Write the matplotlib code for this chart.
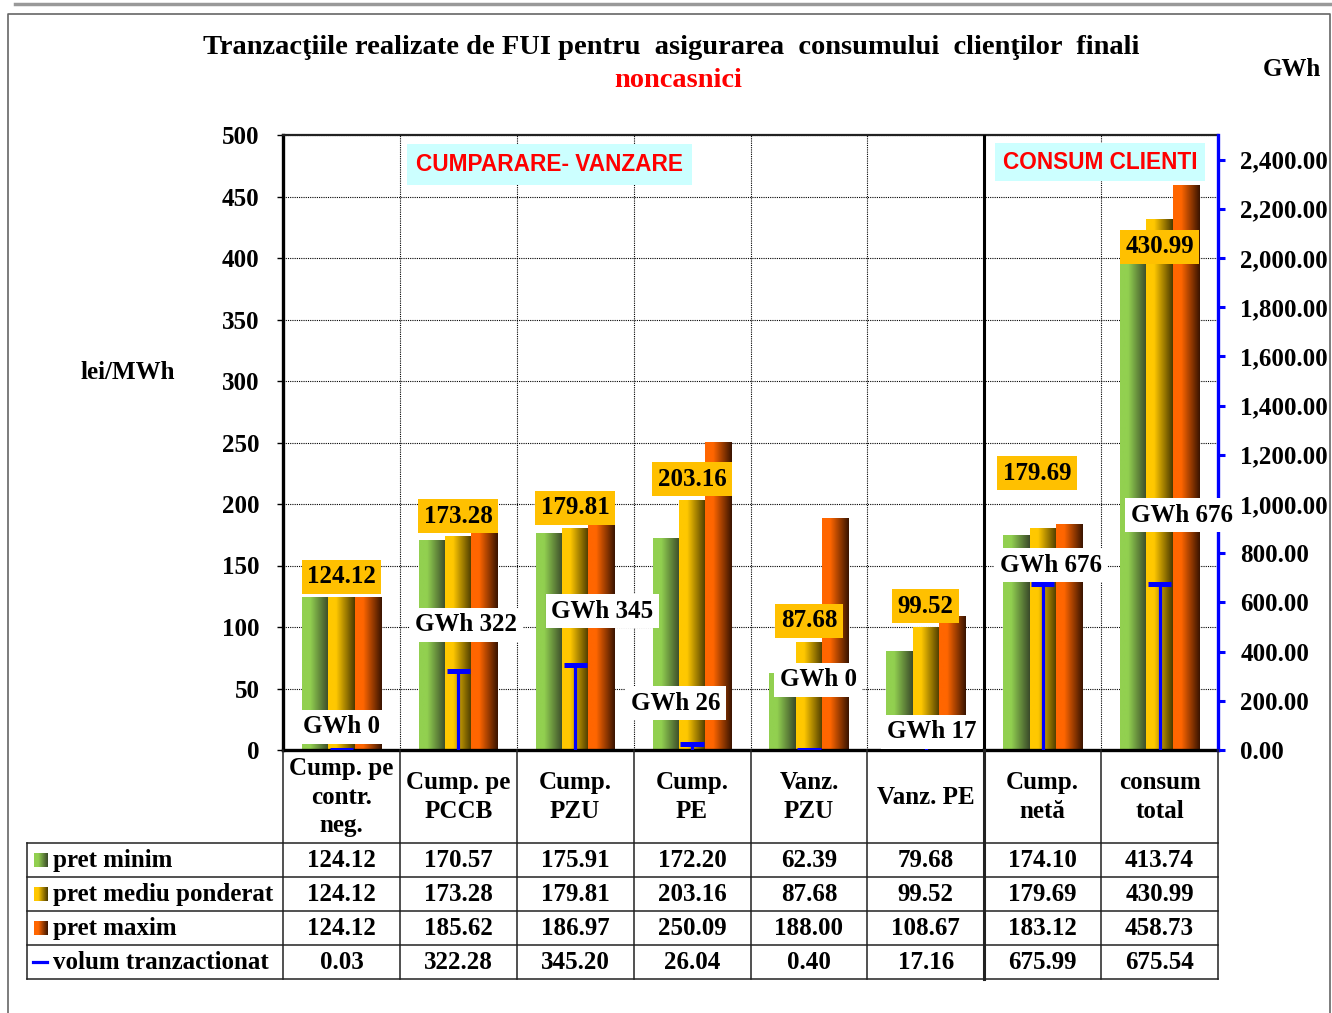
import numpy as np
import matplotlib
matplotlib.use("Agg")
import matplotlib.pyplot as plt
from matplotlib.colors import LinearSegmentedColormap

plt.rcParams['font.family'] = ['Liberation Serif', 'DejaVu Serif']
plt.rcParams['font.weight'] = 'bold'

# data
categories = ["Cump. pe\ncontr.\nneg.", "Cump. pe\nPCCB", "Cump.\nPZU", "Cump.\nPE",
              "Vanz.\nPZU", "Vanz. PE", "Cump.\nnetă", "consum\ntotal"]
pret_minim = [124.12, 170.57, 175.91, 172.20, 62.39, 79.68, 174.10, 413.74]
pret_mediu = [124.12, 173.28, 179.81, 203.16, 87.68, 99.52, 179.69, 430.99]
pret_maxim = [124.12, 185.62, 186.97, 250.09, 188.00, 108.67, 183.12, 458.73]
volum = [0.03, 322.28, 345.20, 26.04, 0.40, 17.16, 675.99, 675.54]
series_names = ["pret minim", "pret mediu ponderat", "pret maxim", "volum tranzactionat"]

# label placement (moved by hand in the original)
mediu_lbl_y = [141, 190, 197, 220, 105, 117, 225, 409]
mediu_lbl_dx = [0, 0, 0, 0, 0, 0, -0.05, 0]
gwh_lbl_y = [19, 102, 113, 38, 57, 15, 150, 191]
gwh_lbl_dx = [0, 0.07, 0.23, -0.14, 0.08, 0.05, 0.07, 0.19]

colors = [("#92D050", "#3A4A2A"), ("#FFC800", "#4A3A00"), ("#FF6600", "#3A1400")]

W, H = 1332, 1013
fig = plt.figure(figsize=(W / 100, H / 100), dpi=100)
L, R, T, B = 283, 1218, 135, 750
ax = fig.add_axes([L / W, 1 - B / H, (R - L) / W, (B - T) / H])

n = len(categories)
x = np.arange(n)
bw = 0.225


def grad_cmap(c1, c2):
    return LinearSegmentedColormap.from_list("g", [(0, c1), (0.3, c1), (1, c2)])


grad = np.linspace(0, 1, 64).reshape(1, -1)
for k, vals in enumerate([pret_minim, pret_mediu, pret_maxim]):
    bars = ax.bar(x + (k - 1) * bw, vals, bw, color=colors[k][0], zorder=2)
    cm = grad_cmap(*colors[k])
    for b in bars:
        x0, y0 = b.get_xy()
        ax.imshow(grad, extent=[x0, x0 + b.get_width(), y0, y0 + b.get_height()],
                  aspect='auto', cmap=cm, zorder=2.1)

ax.set_xlim(-0.5, n - 0.5)
ax.set_ylim(0, 500)
ax.set_yticks(np.arange(0, 501, 50))
ax.set_xticks([])
ax.yaxis.grid(True, linestyle=(0, (1, 1)), color='black', linewidth=0.8)
for k in range(1, n):
    ax.axvline(k - 0.5, linestyle=(0, (1, 1)), color='black', linewidth=0.8, zorder=1)
ax.axvline(5.5, color='black', linewidth=2.2, zorder=3)
ax.set_axisbelow(True)
ax.tick_params(axis='y', direction='out', length=4, width=1, pad=13, labelsize=18)
for t in ax.get_yticklabels():
    t.set_fontweight('bold')
ax.spines['left'].set_linewidth(2.4)
ax.spines['bottom'].set_linewidth(2.4)
ax.spines['top'].set_linewidth(1.6)
ax.spines['top'].set_color('#222222')
ax.spines['right'].set_visible(False)

# volume on secondary axis
ax2 = ax.twinx()
ax2.set_ylim(0, 2500)
ax2.set_yticks(np.arange(0, 2401, 200))
ax2.set_yticklabels(["{:,.2f}".format(v) for v in np.arange(0, 2401, 200)])
ax2.vlines(x, 0, volum, color='#0000FF', linewidth=2.3, zorder=4)
ax2.hlines(volum, x - 0.1, x + 0.1, color='#0000FF', linewidth=3.6, zorder=4)
for s in ['left', 'top', 'bottom']:
    ax2.spines[s].set_visible(False)
ax2.spines['right'].set_color('#0000FF')
ax2.spines['right'].set_linewidth(2.4)
ax2.tick_params(axis='y', direction='out', length=5, width=2.2, color='#0000FF',
                pad=11, labelsize=18)
for t in ax2.get_yticklabels():
    t.set_fontweight('bold')

# data labels
for i in range(n):
    ax2.text(i + mediu_lbl_dx[i], mediu_lbl_y[i] * 5, "%.2f" % pret_mediu[i], ha='center',
             va='center', fontsize=18, fontweight='bold', zorder=6,
             bbox=dict(boxstyle='square,pad=0.22', fc='#FFC000', ec='none'))
    ax2.text(i + gwh_lbl_dx[i], gwh_lbl_y[i] * 5, "GWh %d" % round(volum[i]), ha='center',
             va='center', fontsize=18, fontweight='bold', zorder=6,
             bbox=dict(boxstyle='square,pad=0.22', fc='white', ec='none'))

ax2.text(1.78, 2380, "CUMPARARE- VANZARE", ha='center', va='center', fontsize=16.3,
         fontweight='bold', color='#FF0000', family='Liberation Sans', zorder=6,
         bbox=dict(boxstyle='square,pad=0.4', fc='#CCFFFF', ec='none'))
ax2.text(6.49, 2390, "CONSUM CLIENTI", ha='center', va='center', fontsize=16.3,
         fontweight='bold', color='#FF0000', family='Liberation Sans', zorder=6,
         bbox=dict(boxstyle='square,pad=0.35', fc='#CCFFFF', ec='none'))

# overlay in pixel units: title, frame, data table
ov = fig.add_axes([0, 0, 1, 1])
ov.set_xlim(0, W)
ov.set_ylim(H, 0)
ov.axis('off')
ov.patch.set_alpha(0)

ov.plot([15, W], [4, 4], color='#999999', linewidth=2.5)
ov.plot([8, 8, W - 2, W - 2], [H, 14, 14, H], color='#666666', linewidth=1.2)

ov.text(671, 47, "Tranzacţiile realizate de FUI pentru  asigurarea  consumului  clienţilor  finali",
        ha='center', va='center', fontsize=20.5, fontweight='bold')
ov.text(678, 80, "noncasnici", ha='center', va='center', fontsize=20.5, fontweight='bold',
        color='#FF0000')
ov.text(1292, 69, "GWh", ha='center', va='center', fontsize=18, fontweight='bold')
ov.text(128, 372, "lei/MWh", ha='center', va='center', fontsize=18, fontweight='bold')

col_x = [L + i * (R - L) / n for i in range(n + 1)]
row_y = [843, 877, 911, 945, 979]
line_kw = dict(color='#222222', linewidth=1.1)
for yy in row_y:
    ov.plot([27, R], [yy, yy], **line_kw)
ov.plot([27, 27], [843, 979], **line_kw)
for k, xx in enumerate(col_x):
    lw = 2.2 if k == 6 else 1.1
    ov.plot([xx, xx], [B, 979], color='#222222', linewidth=lw)

for i in range(n):
    cx = (col_x[i] + col_x[i + 1]) / 2
    ov.text(cx, 797, categories[i], ha='center', va='center', fontsize=18,
            fontweight='bold', linespacing=1.28)
    for r, vals in enumerate([pret_minim, pret_mediu, pret_maxim, volum]):
        ov.text(cx, (row_y[r] + row_y[r + 1]) / 2, "%.2f" % vals[i],
                ha='center', va='center', fontsize=18, fontweight='bold')

for r, name in enumerate(series_names):
    cy = (row_y[r] + row_y[r + 1]) / 2
    if r < 3:
        ov.imshow(grad, extent=[34, 48, cy + 7, cy - 7], aspect='auto',
                  cmap=grad_cmap(*colors[r]), zorder=3)
    else:
        ov.plot([33, 47], [cy, cy], color='#0000FF', linewidth=2.3)
    ov.text(53, cy, name, ha='left', va='center', fontsize=18, fontweight='bold')
ov.set_xlim(0, W)
ov.set_ylim(H, 0)

fig.savefig("out.png", dpi=100)
